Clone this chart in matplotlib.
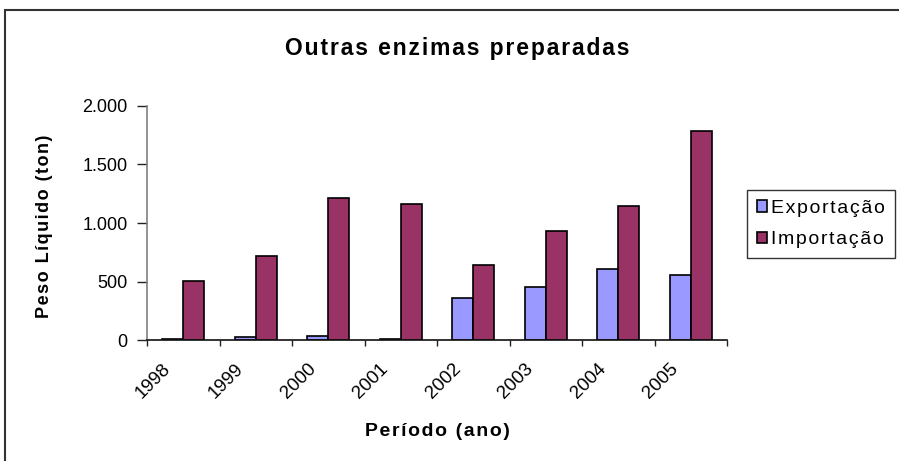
import matplotlib
matplotlib.use('Agg')
import matplotlib.pyplot as plt
import matplotlib.transforms as mtransforms
import numpy as np
from matplotlib.patches import Rectangle

plt.rcParams['font.family'] = ['Liberation Sans', 'DejaVu Sans']

# Data
years = ['1998', '1999', '2000', '2001', '2002', '2003', '2004', '2005']
exportacao = [10, 23, 37, 8, 359, 453, 609, 558]
importacao = [507, 720, 1211, 1160, 641, 932, 1145, 1786]
yticks = [0, 500, 1000, 1500, 2000]
ytick_labels = ['0', '500', '1.000', '1.500', '2.000']


def spaced(s):
    # letter spacing like the original chart (hair space between chars)
    return '\u200a'.join(s)


fig = plt.figure(figsize=(8.99, 4.61), dpi=100)
ax = fig.add_axes([147 / 899, 1 - 340 / 461, 580 / 899, 234 / 461])

x = np.arange(len(years))
w = 0.29
ax.bar(x - w / 2, exportacao, w, color='#9999FF', edgecolor='black', linewidth=1.2,
       label=spaced('Exportação'))
ax.bar(x + w / 2, importacao, w, color='#993366', edgecolor='black', linewidth=1.2,
       label=spaced('Importação'))

ax.set_xlim(-0.5, len(years) - 0.5)
ax.set_ylim(0, 2000)
ax.set_yticks(yticks)
ax.set_yticklabels(ytick_labels, fontsize=13)
ax.tick_params(axis='y', length=7, width=1, direction='out', pad=7, color='#222222')

ax.set_xticks(x)
ax.set_xticklabels(years, rotation=45, ha='right', va='center', rotation_mode='anchor', fontsize=13.5)
ax.tick_params(axis='x', length=0, pad=19)
shift = mtransforms.ScaledTranslation(-15 / 100, 0, fig.dpi_scale_trans)
for lab in ax.get_xticklabels():
    lab.set_transform(lab.get_transform() + shift)
ax.set_xticks(np.arange(-0.5, len(years)), minor=True)
ax.tick_params(axis='x', which='minor', length=4.5, width=1, direction='out', color='#222222')

for s in ['top', 'right']:
    ax.spines[s].set_visible(False)
ax.spines['left'].set_color('#808080')
ax.spines['left'].set_linewidth(1.2)
ax.spines['bottom'].set_color('#111111')
ax.spines['bottom'].set_linewidth(1.2)

fig.text(457 / 899, 1 - 55 / 461, spaced('Outras enzimas preparadas'), fontsize=16.5,
         fontweight='bold', ha='center', va='baseline')
fig.text(45 / 899, 1 - 226 / 461, spaced('Peso Líquido (ton)'), fontsize=13,
         fontweight='bold', ha='center', va='center', rotation=90)
fig.text(437 / 899, 1 - 431 / 461, spaced('Período (ano)'), fontsize=14,
         fontweight='bold', ha='center', va='center')

leg = fig.legend(loc='upper left', bbox_to_anchor=(747 / 899, 1 - 190 / 461), fontsize=14,
                 frameon=True, fancybox=False, handlelength=0.55, handleheight=0.55,
                 handletextpad=0.2, borderaxespad=0, borderpad=0.5, labelspacing=0.75)
leg.get_frame().set_edgecolor('black')
leg.get_frame().set_linewidth(1.0)

# outer chart border
fig.patches.append(Rectangle((5 / 899, -0.1), 1.2, 1 - 10 / 461 + 0.1, transform=fig.transFigure,
                             fill=False, edgecolor='#333333', linewidth=1.5))

fig.savefig('out.png', dpi=100)
